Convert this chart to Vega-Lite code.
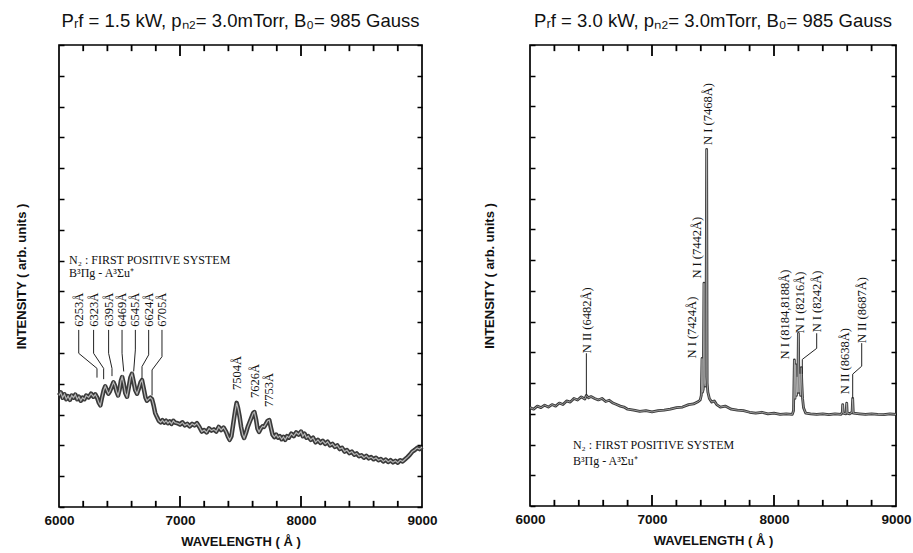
{
  "$schema": "https://vega.github.io/schema/vega-lite/v6.json",
  "padding": {"left": 14, "top": 10, "right": 5, "bottom": 5},
  "spacing": 44,
  "background": "white",
  "config": {
    "view": {"stroke": "#000", "strokeWidth": 1.7},
    "axis": {"tickColor": "#000", "tickWidth": 1.5, "domain": false, "grid": false, "labelFlush": false, "labelFont": "Liberation Sans", "labelFontWeight": "bold", "labelFontSize": 13.5, "labelColor": "#111", "titleFont": "Liberation Sans", "titleFontWeight": "bold", "titleFontSize": 13, "titleColor": "#111"},
    "title": {"font": "Liberation Sans", "fontSize": 18.5, "fontWeight": "normal", "color": "#111", "offset": 14}
  },
  "datasets": {
    "left": [
      {"w":6000,"i":3.62},{"w":6015,"i":3.72},{"w":6030,"i":3.55},{"w":6045,"i":3.66},{"w":6060,"i":3.5},{"w":6075,"i":3.6},{"w":6090,"i":3.48},{"w":6105,"i":3.62},{"w":6120,"i":3.55},{"w":6135,"i":3.65},{"w":6150,"i":3.5},{"w":6165,"i":3.58},{"w":6180,"i":3.45},{"w":6195,"i":3.55},{"w":6210,"i":3.5},{"w":6225,"i":3.62},{"w":6245,"i":3.56},{"w":6265,"i":3.68},{"w":6285,"i":3.58},{"w":6300,"i":3.66},{"w":6315,"i":3.55},{"w":6330,"i":3.38},{"w":6342,"i":3.3},{"w":6355,"i":3.55},{"w":6370,"i":3.8},{"w":6382,"i":3.92},{"w":6395,"i":3.8},{"w":6408,"i":3.68},{"w":6420,"i":3.75},{"w":6435,"i":3.9},{"w":6450,"i":4.05},{"w":6462,"i":3.95},{"w":6475,"i":3.75},{"w":6488,"i":3.62},{"w":6500,"i":3.8},{"w":6512,"i":4.1},{"w":6522,"i":4.22},{"w":6535,"i":4.0},{"w":6548,"i":3.7},{"w":6562,"i":3.58},{"w":6575,"i":3.85},{"w":6590,"i":4.2},{"w":6603,"i":4.32},{"w":6615,"i":4.1},{"w":6630,"i":3.8},{"w":6645,"i":3.68},{"w":6660,"i":3.85},{"w":6675,"i":4.05},{"w":6686,"i":4.12},{"w":6700,"i":3.85},{"w":6715,"i":3.55},{"w":6727,"i":3.45},{"w":6740,"i":3.5},{"w":6755,"i":3.55},{"w":6769,"i":3.5},{"w":6782,"i":3.3},{"w":6795,"i":3.05},{"w":6810,"i":2.92},{"w":6825,"i":2.8},{"w":6840,"i":2.75},{"w":6855,"i":2.82},{"w":6870,"i":2.74},{"w":6885,"i":2.8},{"w":6900,"i":2.72},{"w":6915,"i":2.78},{"w":6930,"i":2.7},{"w":6945,"i":2.8},{"w":6960,"i":2.74},{"w":6980,"i":2.72},{"w":7000,"i":2.68},{"w":7020,"i":2.75},{"w":7040,"i":2.65},{"w":7060,"i":2.7},{"w":7080,"i":2.62},{"w":7100,"i":2.7},{"w":7120,"i":2.65},{"w":7140,"i":2.72},{"w":7160,"i":2.6},{"w":7180,"i":2.45},{"w":7200,"i":2.5},{"w":7220,"i":2.42},{"w":7240,"i":2.55},{"w":7260,"i":2.48},{"w":7280,"i":2.52},{"w":7300,"i":2.45},{"w":7320,"i":2.6},{"w":7340,"i":2.5},{"w":7360,"i":2.58},{"w":7380,"i":2.45},{"w":7395,"i":2.3},{"w":7410,"i":2.18},{"w":7425,"i":2.3},{"w":7440,"i":2.7},{"w":7455,"i":3.1},{"w":7468,"i":3.38},{"w":7480,"i":3.2},{"w":7492,"i":2.95},{"w":7505,"i":2.6},{"w":7518,"i":2.35},{"w":7530,"i":2.24},{"w":7545,"i":2.4},{"w":7560,"i":2.6},{"w":7575,"i":2.75},{"w":7590,"i":2.9},{"w":7605,"i":3.05},{"w":7615,"i":3.08},{"w":7628,"i":2.85},{"w":7640,"i":2.55},{"w":7653,"i":2.44},{"w":7668,"i":2.55},{"w":7682,"i":2.62},{"w":7695,"i":2.6},{"w":7710,"i":2.7},{"w":7725,"i":2.8},{"w":7738,"i":2.82},{"w":7750,"i":2.6},{"w":7765,"i":2.35},{"w":7780,"i":2.27},{"w":7795,"i":2.35},{"w":7810,"i":2.25},{"w":7825,"i":2.3},{"w":7840,"i":2.2},{"w":7855,"i":2.28},{"w":7870,"i":2.18},{"w":7885,"i":2.3},{"w":7900,"i":2.25},{"w":7920,"i":2.38},{"w":7940,"i":2.3},{"w":7960,"i":2.42},{"w":7980,"i":2.35},{"w":8000,"i":2.45},{"w":8015,"i":2.3},{"w":8030,"i":2.38},{"w":8045,"i":2.25},{"w":8060,"i":2.3},{"w":8080,"i":2.18},{"w":8100,"i":2.25},{"w":8120,"i":2.1},{"w":8140,"i":2.18},{"w":8160,"i":2.08},{"w":8180,"i":2.15},{"w":8200,"i":2.05},{"w":8220,"i":2.12},{"w":8240,"i":2.0},{"w":8260,"i":2.05},{"w":8280,"i":1.95},{"w":8300,"i":2.0},{"w":8320,"i":1.88},{"w":8340,"i":1.92},{"w":8360,"i":1.8},{"w":8380,"i":1.85},{"w":8400,"i":1.75},{"w":8420,"i":1.8},{"w":8440,"i":1.7},{"w":8460,"i":1.74},{"w":8480,"i":1.65},{"w":8500,"i":1.68},{"w":8520,"i":1.6},{"w":8540,"i":1.66},{"w":8560,"i":1.58},{"w":8580,"i":1.62},{"w":8600,"i":1.55},{"w":8620,"i":1.6},{"w":8640,"i":1.52},{"w":8660,"i":1.56},{"w":8680,"i":1.48},{"w":8700,"i":1.54},{"w":8720,"i":1.46},{"w":8740,"i":1.52},{"w":8760,"i":1.45},{"w":8780,"i":1.5},{"w":8800,"i":1.44},{"w":8820,"i":1.52},{"w":8840,"i":1.48},{"w":8860,"i":1.55},{"w":8880,"i":1.62},{"w":8900,"i":1.7},{"w":8920,"i":1.8},{"w":8940,"i":1.85},{"w":8960,"i":1.92},{"w":8980,"i":1.88},{"w":9000,"i":1.95}
    ],
    "right": [
      {"w":6000,"i":3.2},{"w":6030,"i":3.15},{"w":6060,"i":3.25},{"w":6090,"i":3.2},{"w":6120,"i":3.28},{"w":6150,"i":3.22},{"w":6180,"i":3.3},{"w":6210,"i":3.25},{"w":6240,"i":3.35},{"w":6270,"i":3.3},{"w":6300,"i":3.42},{"w":6330,"i":3.38},{"w":6360,"i":3.5},{"w":6390,"i":3.45},{"w":6420,"i":3.55},{"w":6450,"i":3.48},{"w":6462,"i":3.6},{"w":6480,"i":3.52},{"w":6500,"i":3.56},{"w":6530,"i":3.5},{"w":6560,"i":3.45},{"w":6590,"i":3.5},{"w":6620,"i":3.4},{"w":6650,"i":3.44},{"w":6680,"i":3.35},{"w":6710,"i":3.3},{"w":6740,"i":3.25},{"w":6770,"i":3.22},{"w":6800,"i":3.15},{"w":6850,"i":3.12},{"w":6900,"i":3.08},{"w":6950,"i":3.1},{"w":7000,"i":3.06},{"w":7050,"i":3.1},{"w":7100,"i":3.12},{"w":7150,"i":3.15},{"w":7200,"i":3.2},{"w":7250,"i":3.22},{"w":7300,"i":3.3},{"w":7340,"i":3.32},{"w":7380,"i":3.4},{"w":7395,"i":3.45},{"w":7404,"i":3.6},{"w":7410,"i":4.8},{"w":7414,"i":3.7},{"w":7420,"i":3.8},{"w":7426,"i":7.25},{"w":7430,"i":4.0},{"w":7436,"i":3.9},{"w":7442,"i":4.2},{"w":7448,"i":11.6},{"w":7452,"i":4.0},{"w":7458,"i":3.7},{"w":7470,"i":3.5},{"w":7490,"i":3.38},{"w":7510,"i":3.42},{"w":7530,"i":3.3},{"w":7560,"i":3.22},{"w":7600,"i":3.25},{"w":7650,"i":3.15},{"w":7700,"i":3.12},{"w":7750,"i":3.1},{"w":7800,"i":3.05},{"w":7850,"i":3.02},{"w":7900,"i":3.05},{"w":7950,"i":3.0},{"w":8000,"i":3.02},{"w":8050,"i":2.98},{"w":8100,"i":3.0},{"w":8150,"i":2.98},{"w":8160,"i":3.1},{"w":8167,"i":4.75},{"w":8172,"i":3.5},{"w":8178,"i":4.6},{"w":8184,"i":3.6},{"w":8190,"i":4.2},{"w":8195,"i":3.7},{"w":8200,"i":5.62},{"w":8205,"i":3.7},{"w":8212,"i":4.3},{"w":8218,"i":3.6},{"w":8224,"i":4.5},{"w":8228,"i":4.0},{"w":8234,"i":3.5},{"w":8242,"i":3.2},{"w":8260,"i":3.02},{"w":8300,"i":3.0},{"w":8350,"i":2.98},{"w":8400,"i":3.0},{"w":8450,"i":2.97},{"w":8500,"i":3.0},{"w":8550,"i":2.98},{"w":8560,"i":3.05},{"w":8563,"i":3.3},{"w":8567,"i":3.02},{"w":8590,"i":3.0},{"w":8596,"i":3.35},{"w":8600,"i":3.02},{"w":8620,"i":3.0},{"w":8640,"i":3.05},{"w":8645,"i":3.5},{"w":8650,"i":3.02},{"w":8700,"i":3.0},{"w":8750,"i":2.98},{"w":8800,"i":3.0},{"w":8850,"i":2.98},{"w":8900,"i":2.97},{"w":8950,"i":3.0},{"w":9000,"i":2.98}
    ],
    "leftLeaders": [
      {"id":"a","k":1,"w":6163,"i":5.75},{"id":"a","k":2,"w":6163,"i":4.99},{"id":"a","k":3,"w":6314,"i":4.5},{"id":"a","k":4,"w":6314,"i":4.2},
      {"id":"b","k":1,"w":6286,"i":5.75},{"id":"b","k":2,"w":6286,"i":4.99},{"id":"b","k":3,"w":6369,"i":4.5},{"id":"b","k":4,"w":6369,"i":4.15},
      {"id":"c","k":1,"w":6410,"i":5.75},{"id":"c","k":2,"w":6410,"i":4.99},{"id":"c","k":3,"w":6438,"i":4.5},{"id":"c","k":4,"w":6438,"i":4.25},
      {"id":"d","k":1,"w":6521,"i":5.75},{"id":"d","k":2,"w":6521,"i":4.99},{"id":"d","k":3,"w":6535,"i":4.4},
      {"id":"e","k":1,"w":6631,"i":5.75},{"id":"e","k":2,"w":6631,"i":5.1},{"id":"e","k":3,"w":6617,"i":4.4},
      {"id":"f","k":1,"w":6741,"i":5.75},{"id":"f","k":2,"w":6741,"i":4.94},{"id":"f","k":3,"w":6686,"i":4.56},{"id":"f","k":4,"w":6686,"i":4.15},
      {"id":"g","k":1,"w":6851,"i":5.75},{"id":"g","k":2,"w":6851,"i":4.88},{"id":"g","k":3,"w":6769,"i":4.45},{"id":"g","k":4,"w":6769,"i":3.62}
    ],
    "leftLabels": [
      {"w":6163,"i":5.85,"t":"6253Å"},{"w":6286,"i":5.85,"t":"6323Å"},{"w":6410,"i":5.85,"t":"6395Å"},{"w":6521,"i":5.85,"t":"6469Å"},{"w":6631,"i":5.85,"t":"6545Å"},{"w":6741,"i":5.85,"t":"6624Å"},{"w":6851,"i":5.85,"t":"6705Å"},
      {"w":7471,"i":3.8,"t":"7504Å"},{"w":7620,"i":3.54,"t":"7626Å"},{"w":7736,"i":3.25,"t":"7753Å"}
    ],
    "leftNotes": [
      {"w":6083,"i":8.02,"t":"N₂ : FIRST POSITIVE SYSTEM"},
      {"w":6083,"i":7.6,"t":"B³Πg - A³Σu⁺"}
    ],
    "rightLeaders": [
      {"id":"a","k":1,"w":6462,"i":4.97},{"id":"a","k":2,"w":6462,"i":3.6},
      {"id":"b","k":1,"w":8350,"i":5.62},{"id":"b","k":2,"w":8350,"i":5.13},{"id":"b","k":3,"w":8232,"i":4.77},{"id":"b","k":4,"w":8232,"i":4.3},
      {"id":"c","k":1,"w":8719,"i":5.3},{"id":"c","k":2,"w":8719,"i":4.55},{"id":"c","k":3,"w":8645,"i":4.29},{"id":"c","k":4,"w":8645,"i":3.5}
    ],
    "rightLabels": [
      {"w":6465,"i":4.97,"t":"N II (6482Å)"},
      {"w":7325,"i":4.8,"t":"N I (7424Å)"},
      {"w":7366,"i":7.4,"t":"N I (7442Å)"},
      {"w":7458,"i":11.75,"t":"N I (7468Å)"},
      {"w":8090,"i":4.77,"t":"N I (8184,8188Å)"},
      {"w":8213,"i":5.62,"t":"N I (8216Å)"},
      {"w":8350,"i":5.65,"t":"N I (8242Å)"},
      {"w":8582,"i":3.64,"t":"N II (8638Å)"},
      {"w":8719,"i":5.3,"t":"N II (8687Å)"}
    ],
    "rightNotes": [
      {"w":6352,"i":1.98,"t":"N₂ : FIRST POSITIVE SYSTEM"},
      {"w":6352,"i":1.46,"t":"B³Πg - A³Σu⁺"}
    ],
    "ticksMinor": [{"w":6200},{"w":6400},{"w":6600},{"w":6800},{"w":7200},{"w":7400},{"w":7600},{"w":7800},{"w":8200},{"w":8400},{"w":8600},{"w":8800}],
    "ticksMajor": [{"w":7000},{"w":8000}]
  },
  "hconcat": [
    {
      "width": 363, "height": 462,
      "title": {"text": "Pᵣf = 1.5 kW, pₙ₂= 3.0mTorr, B₀= 985 Gauss"},
      "resolve": {"axis": {"x": "independent", "y": "independent"}},
      "layer": [
        {
          "data": {"name": "left"},
          "mark": {"type": "line", "stroke": "#3a3a3a", "strokeWidth": 4.5, "strokeJoin": "round"},
          "encoding": {
            "x": {"field": "w", "type": "quantitative", "scale": {"domain": [6000, 9000], "nice": false, "zero": false},
              "axis": {"orient": "bottom", "title": "WAVELENGTH   ( Å )", "values": [6000,7000,8000,9000], "format": "d", "ticks": false, "labelPadding": 6, "titlePadding": 9}},
            "y": {"field": "i", "type": "quantitative", "scale": {"domain": [0, 15], "nice": false},
              "axis": {"orient": "left", "title": "INTENSITY  ( arb. units )", "values": [0,1,2,3,4,5,6,7,8,9,10,11,12,13,14,15], "labels": false, "tickSize": -5, "titlePadding": 30}}
          }
        },
        {
          "data": {"name": "left"},
          "mark": {"type": "line", "stroke": "#b5b5b5", "strokeWidth": 1.2},
          "encoding": {
            "x": {"field": "w", "type": "quantitative", "axis": null},
            "y": {"field": "i", "type": "quantitative", "axis": null}
          }
        },
        {
          "data": {"name": "ticksMinor"},
          "mark": {"type": "rule", "color": "#000", "strokeWidth": 1.8},
          "encoding": {
            "x": {"field": "w", "type": "quantitative", "axis": null},
            "y": {"datum": 0, "type": "quantitative", "axis": null},
            "y2": {"datum": 0.2}
          }
        },
        {
          "data": {"name": "ticksMajor"},
          "mark": {"type": "rule", "color": "#000", "strokeWidth": 1.8},
          "encoding": {
            "x": {"field": "w", "type": "quantitative", "axis": null},
            "y": {"datum": 0, "type": "quantitative", "axis": null},
            "y2": {"datum": 0.36}
          }
        },
        {
          "data": {"name": "ticksMinor"},
          "mark": {"type": "rule", "color": "#000", "strokeWidth": 1.8},
          "encoding": {
            "x": {"field": "w", "type": "quantitative", "axis": null},
            "y": {"datum": 15, "type": "quantitative", "axis": null},
            "y2": {"datum": 14.8}
          }
        },
        {
          "data": {"name": "ticksMajor"},
          "mark": {"type": "rule", "color": "#000", "strokeWidth": 1.8},
          "encoding": {
            "x": {"field": "w", "type": "quantitative", "axis": null},
            "y": {"datum": 15, "type": "quantitative", "axis": null},
            "y2": {"datum": 14.64}
          }
        },
        {
          "data": {"name": "leftLeaders"},
          "mark": {"type": "line", "stroke": "#222", "strokeWidth": 1},
          "encoding": {
            "x": {"field": "w", "type": "quantitative", "axis": null},
            "y": {"field": "i", "type": "quantitative", "axis": null},
            "detail": {"field": "id"},
            "order": {"field": "k"}
          }
        },
        {
          "data": {"name": "leftLabels"},
          "mark": {"type": "text", "angle": 270, "align": "left", "baseline": "middle", "font": "Liberation Serif", "fontSize": 12.5, "color": "#111"},
          "encoding": {
            "x": {"field": "w", "type": "quantitative", "axis": null},
            "y": {"field": "i", "type": "quantitative", "axis": null},
            "text": {"field": "t"}
          }
        },
        {
          "data": {"name": "leftNotes"},
          "mark": {"type": "text", "align": "left", "baseline": "middle", "font": "Liberation Serif", "fontSize": 12, "color": "#111"},
          "encoding": {
            "x": {"field": "w", "type": "quantitative", "axis": null},
            "y": {"field": "i", "type": "quantitative", "axis": {"orient": "right", "title": null, "labels": false, "values": [0,1,2,3,4,5,6,7,8,9,10,11,12,13,14,15], "tickSize": -5}},
            "text": {"field": "t"}
          }
        }
      ]
    },
    {
      "width": 366, "height": 461,
      "title": {"text": "Pᵣf = 3.0 kW, pₙ₂= 3.0mTorr, B₀= 985 Gauss"},
      "resolve": {"axis": {"x": "independent", "y": "independent"}},
      "layer": [
        {
          "data": {"name": "right"},
          "mark": {"type": "line", "stroke": "#3a3a3a", "strokeWidth": 2.8, "strokeJoin": "round"},
          "encoding": {
            "x": {"field": "w", "type": "quantitative", "scale": {"domain": [6000, 9000], "nice": false, "zero": false},
              "axis": {"orient": "bottom", "title": "WAVELENGTH   ( Å )", "values": [6000,7000,8000,9000], "format": "d", "ticks": false, "labelPadding": 6, "titlePadding": 9}},
            "y": {"field": "i", "type": "quantitative", "scale": {"domain": [0, 15], "nice": false},
              "axis": {"orient": "left", "title": "INTENSITY  ( arb. units )", "values": [0,1,2,3,4,5,6,7,8,9,10,11,12,13,14,15], "labels": false, "tickSize": -5, "titlePadding": 33}}
          }
        },
        {
          "data": {"name": "right"},
          "mark": {"type": "line", "stroke": "#b5b5b5", "strokeWidth": 0.8},
          "encoding": {
            "x": {"field": "w", "type": "quantitative", "axis": null},
            "y": {"field": "i", "type": "quantitative", "axis": null}
          }
        },
        {
          "data": {"name": "ticksMinor"},
          "mark": {"type": "rule", "color": "#000", "strokeWidth": 1.8},
          "encoding": {
            "x": {"field": "w", "type": "quantitative", "axis": null},
            "y": {"datum": 0, "type": "quantitative", "axis": null},
            "y2": {"datum": 0.2}
          }
        },
        {
          "data": {"name": "ticksMajor"},
          "mark": {"type": "rule", "color": "#000", "strokeWidth": 1.8},
          "encoding": {
            "x": {"field": "w", "type": "quantitative", "axis": null},
            "y": {"datum": 0, "type": "quantitative", "axis": null},
            "y2": {"datum": 0.36}
          }
        },
        {
          "data": {"name": "ticksMinor"},
          "mark": {"type": "rule", "color": "#000", "strokeWidth": 1.8},
          "encoding": {
            "x": {"field": "w", "type": "quantitative", "axis": null},
            "y": {"datum": 15, "type": "quantitative", "axis": null},
            "y2": {"datum": 14.8}
          }
        },
        {
          "data": {"name": "ticksMajor"},
          "mark": {"type": "rule", "color": "#000", "strokeWidth": 1.8},
          "encoding": {
            "x": {"field": "w", "type": "quantitative", "axis": null},
            "y": {"datum": 15, "type": "quantitative", "axis": null},
            "y2": {"datum": 14.64}
          }
        },
        {
          "data": {"name": "rightLeaders"},
          "mark": {"type": "line", "stroke": "#222", "strokeWidth": 1},
          "encoding": {
            "x": {"field": "w", "type": "quantitative", "axis": null},
            "y": {"field": "i", "type": "quantitative", "axis": null},
            "detail": {"field": "id"},
            "order": {"field": "k"}
          }
        },
        {
          "data": {"name": "rightLabels"},
          "mark": {"type": "text", "angle": 270, "align": "left", "baseline": "middle", "font": "Liberation Serif", "fontSize": 12.5, "color": "#111"},
          "encoding": {
            "x": {"field": "w", "type": "quantitative", "axis": null},
            "y": {"field": "i", "type": "quantitative", "axis": null},
            "text": {"field": "t"}
          }
        },
        {
          "data": {"name": "rightNotes"},
          "mark": {"type": "text", "align": "left", "baseline": "middle", "font": "Liberation Serif", "fontSize": 12, "color": "#111"},
          "encoding": {
            "x": {"field": "w", "type": "quantitative", "axis": null},
            "y": {"field": "i", "type": "quantitative", "axis": {"orient": "right", "title": null, "labels": false, "values": [0,1,2,3,4,5,6,7,8,9,10,11,12,13,14,15], "tickSize": -5}},
            "text": {"field": "t"}
          }
        }
      ]
    }
  ]
}
